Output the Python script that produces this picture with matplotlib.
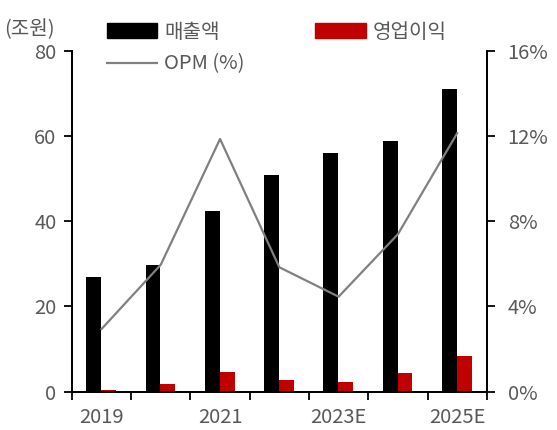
import numpy as np
import matplotlib.pyplot as plt
from matplotlib.patches import Patch
from matplotlib.lines import Line2D

plt.rcParams['font.family'] = ['Noto Sans CJK KR', 'DejaVu Sans']

years = ['2019', '2020', '2021', '2022', '2023E', '2024E', '2025E']
sales = [27.0, 29.8, 42.5, 50.9, 56.0, 58.8, 71.0]
op_profit = [0.5, 1.9, 4.7, 2.8, 2.4, 4.3, 8.4]
opm = [2.94, 5.96, 11.86, 5.84, 4.46, 7.39, 12.13]

gray = '#595959'
fs = 14.5

fig = plt.figure(figsize=(5.57, 4.30), dpi=100)
ax = fig.add_axes([0.129, 0.089, 0.745, 0.793])
ax2 = ax.twinx()

x = np.arange(len(years))
ax.bar(x - 0.13, sales, width=0.25, color='black', zorder=2)
ax.bar(x + 0.12, op_profit, width=0.25, color='#C00000', zorder=2)
ax2.plot(x, opm, color='#808080', lw=1.6)

ax.set_xlim(-0.5, 6.5)
ax.set_ylim(0, 80)
ax.set_yticks([0, 20, 40, 60, 80])
ax2.set_ylim(0, 16)
ax2.set_yticks([0, 4, 8, 12, 16])
ax2.set_yticklabels(['0%', '4%', '8%', '12%', '16%'])

# ticks at category boundaries, labels every other year
ax.set_xticks(np.arange(-0.5, 7, 1))
ax.set_xticklabels([])
ax.set_xticks([0, 2, 4, 6], minor=True)
ax.set_xticklabels([years[i] for i in [0, 2, 4, 6]], minor=True)
ax.tick_params(axis='x', which='minor', length=0, pad=11)
ax.tick_params(axis='x', which='major', length=6, width=1.3, direction='out')
ax.tick_params(axis='y', length=6, width=1.3, direction='out', pad=5)
ax2.tick_params(axis='y', length=6, width=1.3, direction='out', pad=9)

for a in (ax, ax2):
    a.tick_params(labelsize=fs, labelcolor=gray, which='both')
    a.spines['top'].set_visible(False)
    for s in ('left', 'right', 'bottom'):
        a.spines[s].set_linewidth(1.3)

fig.text(0.008, 0.932, '(조원)', fontsize=fs, color=gray, va='center', ha='left')

handles = [Patch(color='black'), Line2D([], [], color='#808080', lw=1.6),
           Patch(color='#C00000')]
labels = ['매출액', 'OPM (%)', '영업이익']
leg = fig.legend(handles, labels, ncol=2, loc='upper left',
                 bbox_to_anchor=(0.17, 0.978), frameon=False, fontsize=fs,
                 handlelength=2.5, handletextpad=0.35, columnspacing=3.5,
                 labelspacing=0.55, borderaxespad=0.2)
for t in leg.get_texts():
    t.set_color(gray)

fig.savefig('out.png', dpi=100)
